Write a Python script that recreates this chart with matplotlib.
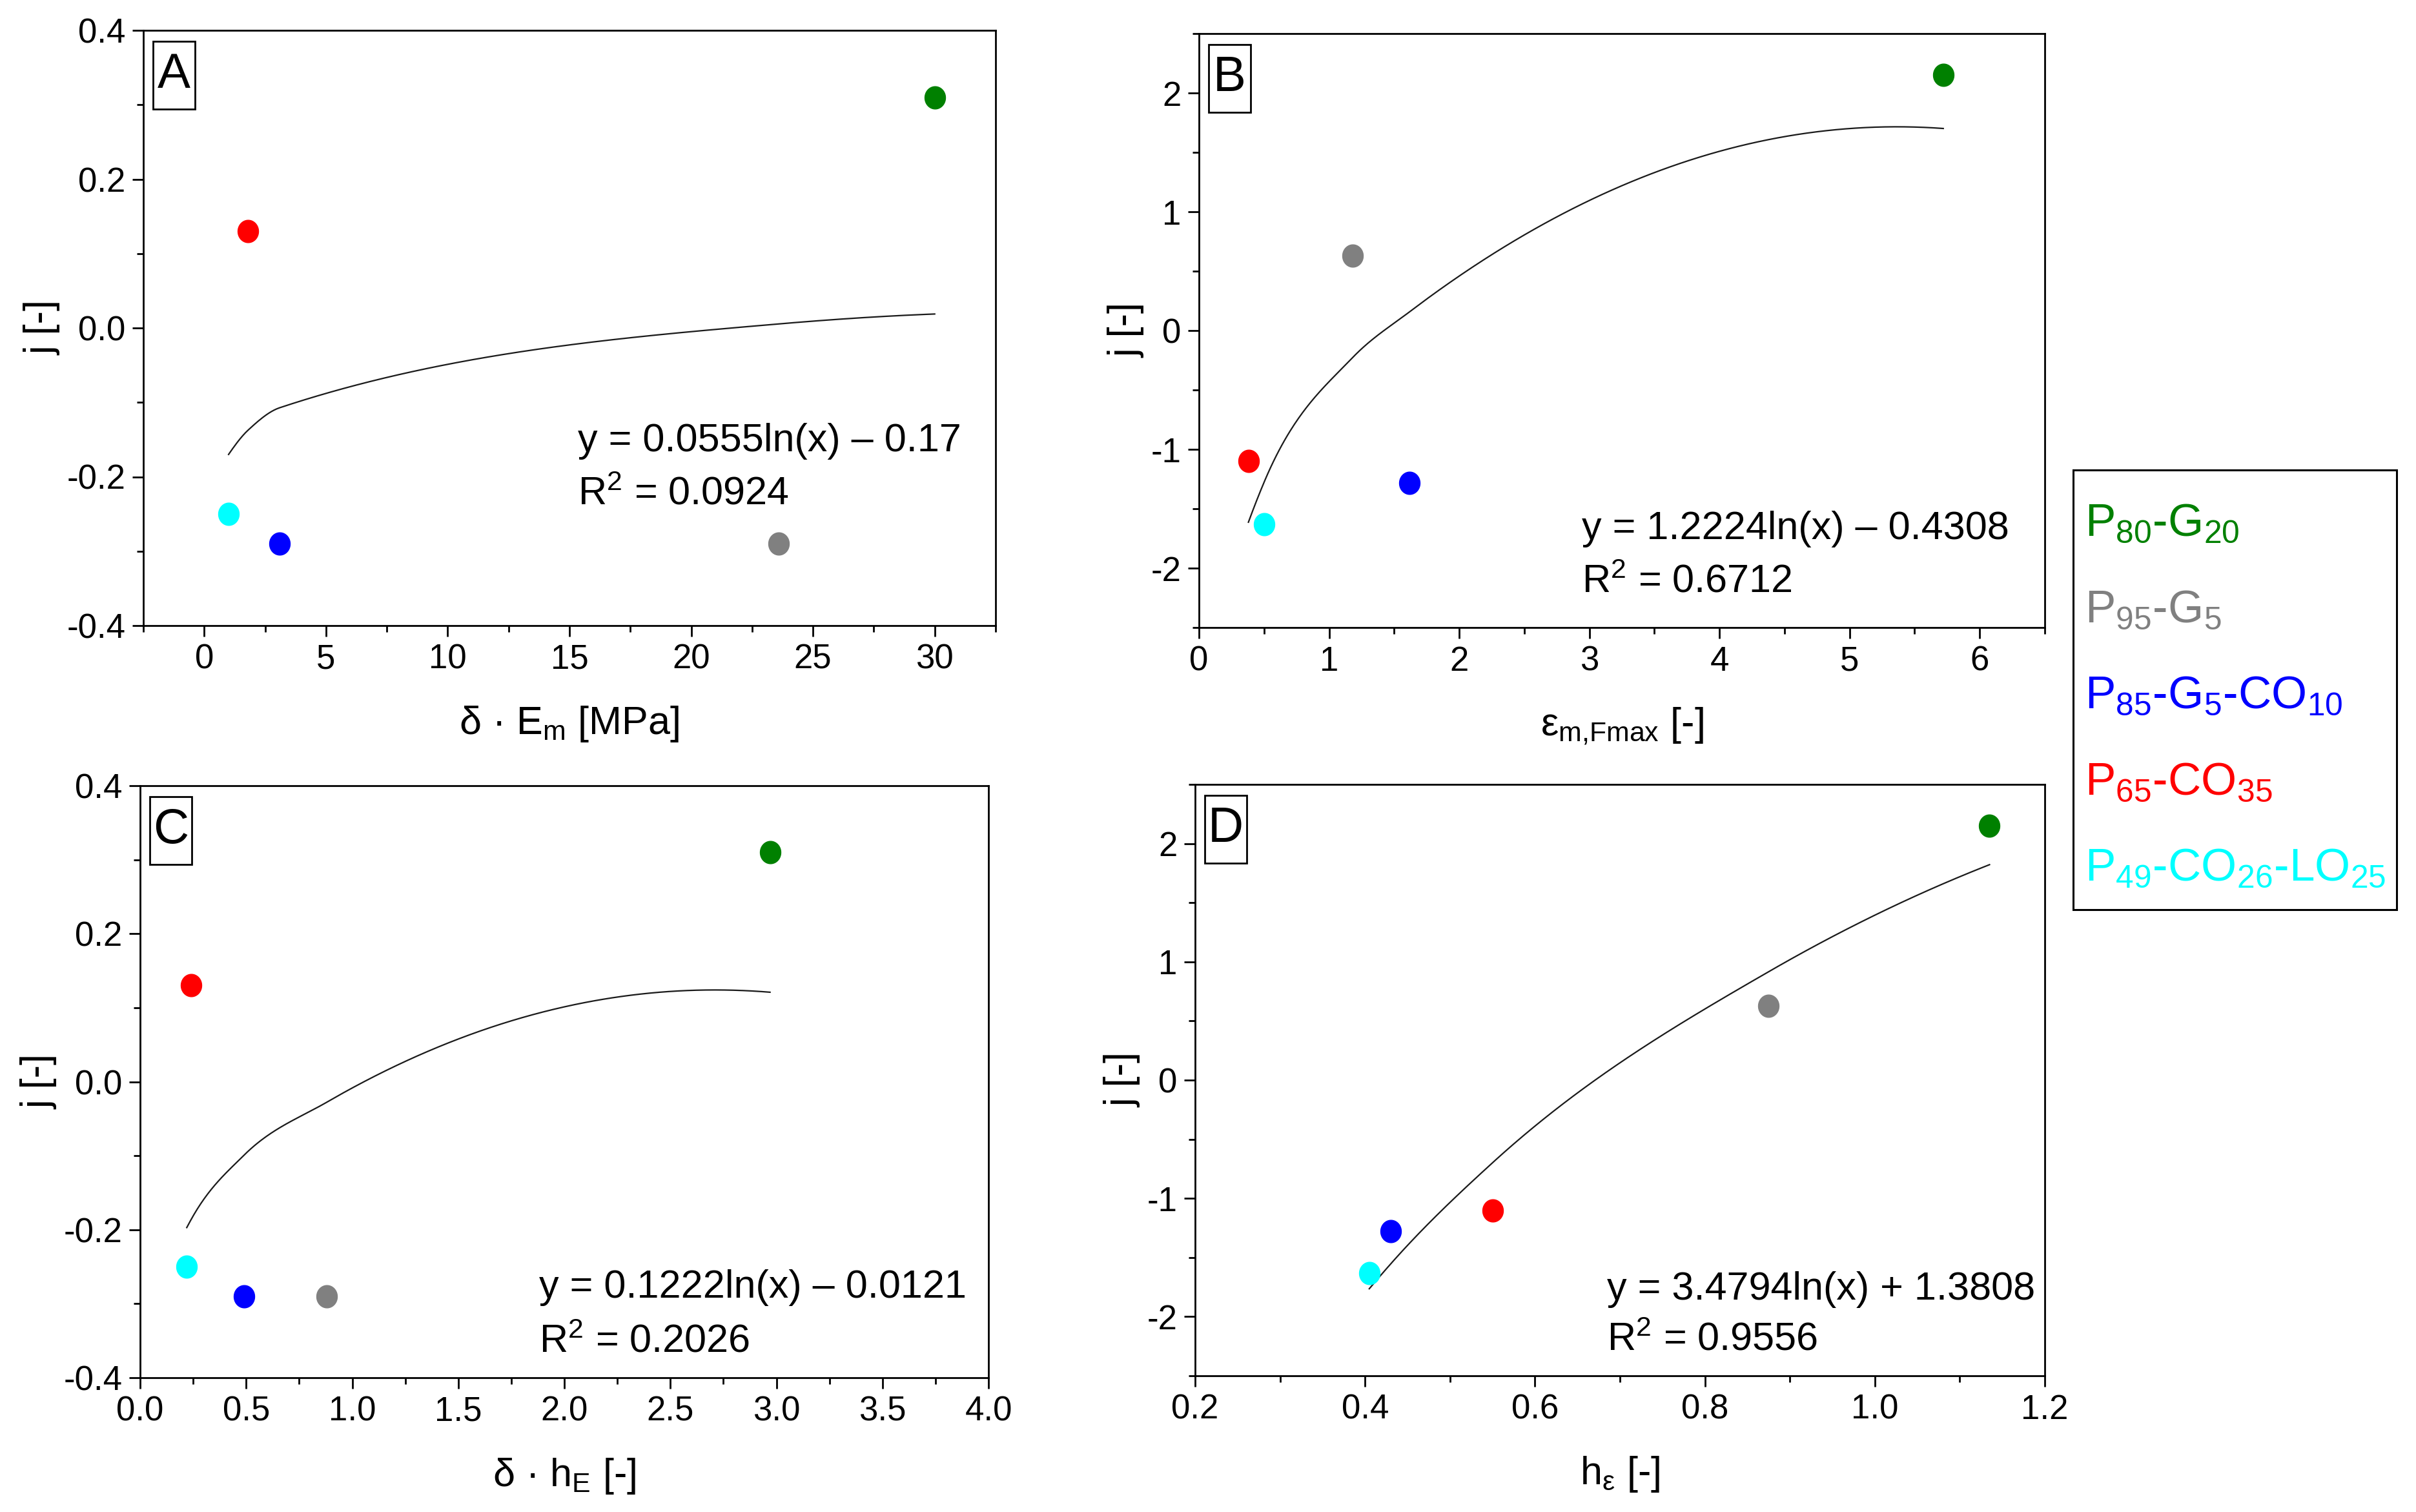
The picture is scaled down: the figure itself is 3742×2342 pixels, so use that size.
import numpy as np
import matplotlib
matplotlib.use('Agg')
import matplotlib.pyplot as plt
from matplotlib import font_manager
from matplotlib.patches import Rectangle
from matplotlib.ticker import MultipleLocator, FormatStrFormatter

# ---------------- data ----------------
sample_labels = [r'P$\mathregular{_{80}}$-G$\mathregular{_{20}}$',
                 r'P$\mathregular{_{95}}$-G$\mathregular{_{5}}$',
                 r'P$\mathregular{_{85}}$-G$\mathregular{_{5}}$-CO$\mathregular{_{10}}$',
                 r'P$\mathregular{_{65}}$-CO$\mathregular{_{35}}$',
                 r'P$\mathregular{_{49}}$-CO$\mathregular{_{26}}$-LO$\mathregular{_{25}}$']
colors = ['#008000', '#808080', '#0000ff', '#ff0000', '#00ffff']

j_small = [0.31, -0.29, -0.29, 0.13, -0.25]      # panels A, C
j_large = [2.15, 0.63, -1.28, -1.10, -1.63]      # panels B, D

x_A = [30.0, 23.6, 3.1, 1.8, 1.0]        # delta * E_m [MPa]
x_B = [5.72, 1.18, 1.62, 0.38, 0.50]     # eps_m,Fmax
x_C = [2.97, 0.88, 0.49, 0.24, 0.22]     # delta * h_E
x_D = [1.135, 0.875, 0.43, 0.55, 0.405]  # h_eps

fit_a = [0.0555, 1.2224, 0.1222, 3.4794]
fit_b = [-0.17, -0.4308, -0.0121, 1.3808]
eq_text = ['y = 0.0555ln(x) – 0.17', 'y = 1.2224ln(x) – 0.4308',
           'y = 0.1222ln(x) – 0.0121', 'y = 3.4794ln(x) + 1.3808']
r2_text = ['0.0924', '0.6712', '0.2026', '0.9556']
panel_letters = ['A', 'B', 'C', 'D']
xlabels = ['δ · E$\\mathregular{_{m}}$ [MPa]', 'ε$\\mathregular{_{m{,}Fmax}}$ [-]',
           'δ · h$\\mathregular{_{E}}$ [-]', 'h$\\mathregular{_{ε}}$ [-]']
trend_method = ['pchip', 'bessel', 'bessel', 'bessel']

# ---------------- style ----------------
names = {f.name for f in font_manager.fontManager.ttflist}
NARROW = 'Liberation Sans Narrow' if 'Liberation Sans Narrow' in names else 'Liberation Sans'
plt.rcParams['font.family'] = [NARROW, 'DejaVu Sans']
plt.rcParams['axes.unicode_minus'] = False
plt.rcParams['mathtext.fontset'] = 'dejavusans'


def hermite_curve(xk, yk, xs, method):
    """Piecewise cubic Hermite through (xk, yk) with PCHIP or Bessel tangents."""
    xk = np.asarray(xk, float); yk = np.asarray(yk, float)
    n = len(xk)
    h = np.diff(xk); d = np.diff(yk) / h
    m = np.zeros(n)
    if method == 'pchip':
        for i in range(1, n - 1):
            if d[i - 1] * d[i] > 0:
                w1 = 2 * h[i] + h[i - 1]; w2 = h[i] + 2 * h[i - 1]
                m[i] = (w1 + w2) / (w1 / d[i - 1] + w2 / d[i])
        def end(h0, h1, d0, d1):
            s = ((2 * h0 + h1) * d0 - h0 * d1) / (h0 + h1)
            if np.sign(s) != np.sign(d0):
                s = 0.0
            elif np.sign(d0) != np.sign(d1) and abs(s) > abs(3 * d0):
                s = 3 * d0
            return s
        m[0] = end(h[0], h[1], d[0], d[1])
        m[-1] = end(h[-1], h[-2], d[-1], d[-2])
    else:  # Bessel: derivative of the parabola through three neighbouring points
        for i in range(1, n - 1):
            m[i] = (h[i] * d[i - 1] + h[i - 1] * d[i]) / (h[i - 1] + h[i])
        m[0] = ((2 * h[0] + h[1]) * d[0] - h[0] * d[1]) / (h[0] + h[1])
        m[-1] = ((2 * h[-1] + h[-2]) * d[-1] - h[-1] * d[-2]) / (h[-1] + h[-2])
    idx = np.clip(np.searchsorted(xk, xs) - 1, 0, n - 2)
    hh = h[idx]
    t = (xs - xk[idx]) / hh
    h00 = 2 * t ** 3 - 3 * t ** 2 + 1; h10 = t ** 3 - 2 * t ** 2 + t
    h01 = -2 * t ** 3 + 3 * t ** 2; h11 = t ** 3 - t ** 2
    return h00 * yk[idx] + h10 * hh * m[idx] + h01 * yk[idx + 1] + h11 * hh * m[idx + 1]


W, H = 3742, 2342
fig = plt.figure(figsize=(W / 100, H / 100), dpi=100)

# axes boxes in pixels: left, top, right, bottom
boxes = [(222, 47, 1542, 969), (1857, 52, 3167, 972),
         (217, 1217, 1531, 2134), (1851, 1215, 3167, 2131)]
xs_all = [x_A, x_B, x_C, x_D]
ys_all = [j_small, j_large, j_small, j_large]
xlims = [(-2.5, 32.5), (0, 6.5), (0, 4.0), (0.2, 1.2)]
ylims = [(-0.4, 0.4), (-2.5, 2.5), (-0.4, 0.4), (-2.5, 2.5)]
xmaj = [5, 1, 0.5, 0.2]
xmin = [2.5, 0.5, 0.25, 0.1]
ymaj = [0.2, 1, 0.2, 1]
ymin = [0.1, 0.5, 0.1, 0.5]
xfmt = ['%d', '%d', '%.1f', '%.1f']
yfmt = ['%.1f', '%d', '%.1f', '%d']
eq_pos = [(0.51, 0.31, 0.22), (0.453, 0.166, 0.076), (0.47, 0.152, 0.06), (0.485, 0.146, 0.06)]

# elliptical marker slightly narrower than tall
th = np.linspace(0, 2 * np.pi, 60)
ell = np.column_stack([0.92 * np.cos(th), np.sin(th)])

for k in range(4):
    l, t, r, b = boxes[k]
    ax = fig.add_axes([l / W, 1 - b / H, (r - l) / W, (b - t) / H])
    xs = xs_all[k]; ys = ys_all[k]
    # trend line: smooth curve through fitted values at the data abscissae
    xk = np.unique(np.array(xs))
    yk = fit_a[k] * np.log(xk) + fit_b[k]
    xd = np.linspace(xk.min(), xk.max(), 500)
    ax.plot(xd, hermite_curve(xk, yk, xd, trend_method[k]), color='#1a1a1a', lw=1.6, zorder=2)
    for xi, yi, c in zip(xs, ys, colors):
        ax.plot([xi], [yi], marker=ell, ms=25, color=c, mec=c, ls='none', zorder=3)
    ax.set_xlim(*xlims[k]); ax.set_ylim(*ylims[k])
    ax.xaxis.set_major_locator(MultipleLocator(xmaj[k]))
    ax.xaxis.set_minor_locator(MultipleLocator(xmin[k]))
    ax.yaxis.set_major_locator(MultipleLocator(ymaj[k]))
    ax.yaxis.set_minor_locator(MultipleLocator(ymin[k]))
    ax.xaxis.set_major_formatter(FormatStrFormatter(xfmt[k]))
    ax.yaxis.set_major_formatter(FormatStrFormatter(yfmt[k]))
    ax.tick_params(which='major', direction='out', length=12, width=2, labelsize=38, pad=8)
    ax.tick_params(which='minor', direction='out', length=7, width=2)
    for s in ax.spines.values():
        s.set_linewidth(2)
    ax.set_xlabel(xlabels[k], fontsize=44, labelpad=32)
    ax.set_ylabel('j [-]', fontsize=44, labelpad=6)
    ex, ey1, ey2 = eq_pos[k]
    ax.text(ex, ey1, eq_text[k], transform=ax.transAxes, fontsize=44, va='center', ha='left')
    ax.text(ex, ey2, 'R$\\mathregular{^{2}}$ = ' + r2_text[k], transform=ax.transAxes,
            fontsize=44, va='center', ha='left')
    # panel letter box (pixel offsets converted to axes fraction)
    pw, ph = r - l, b - t
    bx, by, bw, bh = 15 / pw, 1 - (17 + 105) / ph, 65 / pw, 105 / ph
    ax.add_patch(Rectangle((bx, by), bw, bh, transform=ax.transAxes, fill=True,
                           fc='white', ec='black', lw=2, zorder=5))
    ax.text(bx + bw / 2, by + bh / 2, panel_letters[k], transform=ax.transAxes,
            fontsize=55, ha='center', va='center', zorder=6)

# legend: coloured sample names in a framed box
fig.patches.append(Rectangle((3211 / W, 1 - 1409 / H), 501 / W, 681 / H,
                             transform=fig.transFigure, fill=False, ec='black', lw=2.2))
for i, (lab, c) in enumerate(zip(sample_labels, colors)):
    fig.text(3229 / W, 1 - (830 + 133.5 * i) / H, lab, color=c, fontsize=51,
             family=['Liberation Sans', 'DejaVu Sans'], ha='left', va='baseline')

fig.savefig('out.png', dpi=100, facecolor='white')
